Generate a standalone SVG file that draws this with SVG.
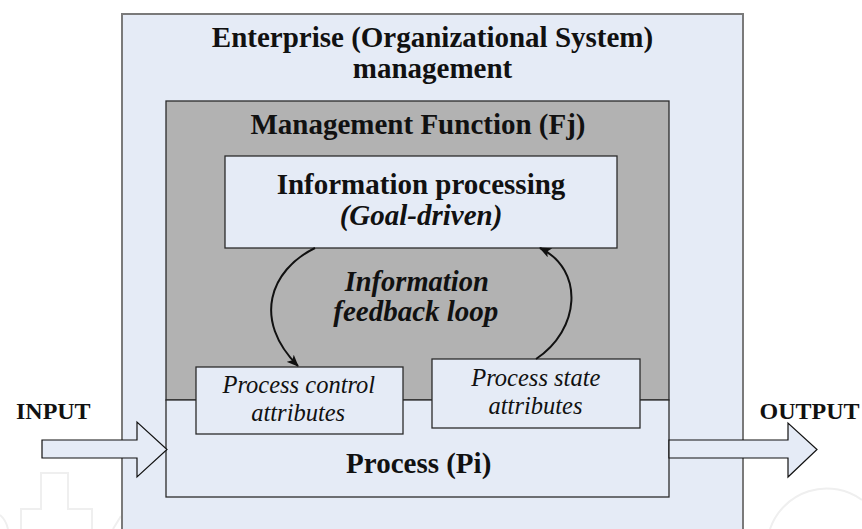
<svg xmlns="http://www.w3.org/2000/svg" width="862" height="529" viewBox="0 0 862 529">
  <style>
    .box { fill: #E5EBF6; stroke: #2b2b2b; stroke-width: 1.3; }
    .outer { fill: #E5EBF6; stroke: #7a7a7a; stroke-width: 2; }
    .gray { fill: #B2B2B2; stroke: #2b2b2b; stroke-width: 1.3; }
    .conn { fill: none; stroke: #111; stroke-width: 2; }
    .arrow { fill: #E5EBF6; stroke: #111; stroke-width: 1.2; }
    .wm { fill: none; stroke: #EFEFEF; stroke-width: 2; }
  </style>
  <defs>
    <marker id="ah" viewBox="0 0 12 10" refX="11" refY="5" markerWidth="12" markerHeight="10" markerUnits="userSpaceOnUse" orient="auto">
      <path d="M0,0 L12,5 L0,10 L3,5 Z" fill="#111"/>
    </marker>
  </defs>

  <g id="watermark">
    <path class="wm" d="M21,529 L21,509 L41,509 L41,473 L68,473 L68,509 L92,509 L92,529"/>
    <path class="wm" d="M0,515 Q6,520 8,529"/>
    <path class="wm" d="M113,529 L121,516"/>
    <path class="wm" d="M770,529 A60,60 0 0 1 862,500"/>
  </g>

  <g id="enterprise">
    <rect class="outer" x="122" y="14" width="621" height="530"/>
    <text x="432.5" y="47" font-family="Liberation Serif" font-size="29" font-weight="bold" fill="#111" text-anchor="middle">Enterprise (Organizational System)</text>
    <text x="432.5" y="78" font-family="Liberation Serif" font-size="29" font-weight="bold" fill="#111" text-anchor="middle">management</text>
  </g>

  <g id="management-function">
    <rect class="gray" x="166" y="101" width="503" height="299"/>
    <text x="418" y="134" font-family="Liberation Serif" font-size="29" font-weight="bold" fill="#111" text-anchor="middle">Management Function (Fj)</text>
  </g>

  <g id="process">
    <rect class="box" x="166" y="400" width="503" height="97"/>
    <text x="418.7" y="473" font-family="Liberation Serif" font-size="29" font-weight="bold" fill="#111" text-anchor="middle">Process (Pi)</text>
  </g>

  <g id="information-processing">
    <rect class="box" x="225" y="156" width="392" height="92"/>
    <text x="421" y="194" font-family="Liberation Serif" font-size="29" font-weight="bold" fill="#111" text-anchor="middle">Information processing</text>
    <text x="421" y="225" font-family="Liberation Serif" font-size="29" font-weight="bold" font-style="italic" fill="#111" text-anchor="middle">(Goal-driven)</text>
  </g>

  <g id="feedback-label">
    <text x="416.7" y="290.5" font-family="Liberation Serif" font-size="28.5" font-weight="bold" font-style="italic" fill="#111" text-anchor="middle">Information</text>
    <text x="415.8" y="320.5" font-family="Liberation Serif" font-size="29" font-weight="bold" font-style="italic" fill="#111" text-anchor="middle">feedback loop</text>
  </g>

  <g id="control-attributes">
    <rect class="box" x="196" y="367" width="207" height="67"/>
    <text x="298.8" y="393" font-family="Liberation Serif" font-size="24.5" font-style="italic" fill="#111" text-anchor="middle">Process control</text>
    <text x="298.2" y="421" font-family="Liberation Serif" font-size="24.5" font-style="italic" fill="#111" text-anchor="middle">attributes</text>
  </g>

  <g id="state-attributes">
    <rect class="box" x="432" y="359" width="208" height="69"/>
    <text x="535.8" y="386" font-family="Liberation Serif" font-size="24.5" font-style="italic" fill="#111" text-anchor="middle">Process state</text>
    <text x="535.5" y="413.5" font-family="Liberation Serif" font-size="24.5" font-style="italic" fill="#111" text-anchor="middle">attributes</text>
  </g>

  <g id="input">
    <polygon class="arrow" points="42,440 137,440 137,422 167,449.5 137,477 137,458 42,458"/>
    <text x="53.3" y="419" font-family="Liberation Serif" font-size="24" font-weight="bold" fill="#111" text-anchor="middle">INPUT</text>
  </g>

  <g id="output">
    <polygon class="arrow" points="669,440 788,440 788,423 817,449.5 788,477 788,458 669,458"/>
    <text x="809.5" y="419" font-family="Liberation Serif" font-size="24" font-weight="bold" fill="#111" text-anchor="middle">OUTPUT</text>
  </g>

  <g id="connectors">
    <path class="conn" d="M315,248 C270,270 252,320 298,366" marker-end="url(#ah)"/>
    <path class="conn" d="M536,359 C580,330 585,270 540,248" marker-end="url(#ah)"/>
  </g>
</svg>
